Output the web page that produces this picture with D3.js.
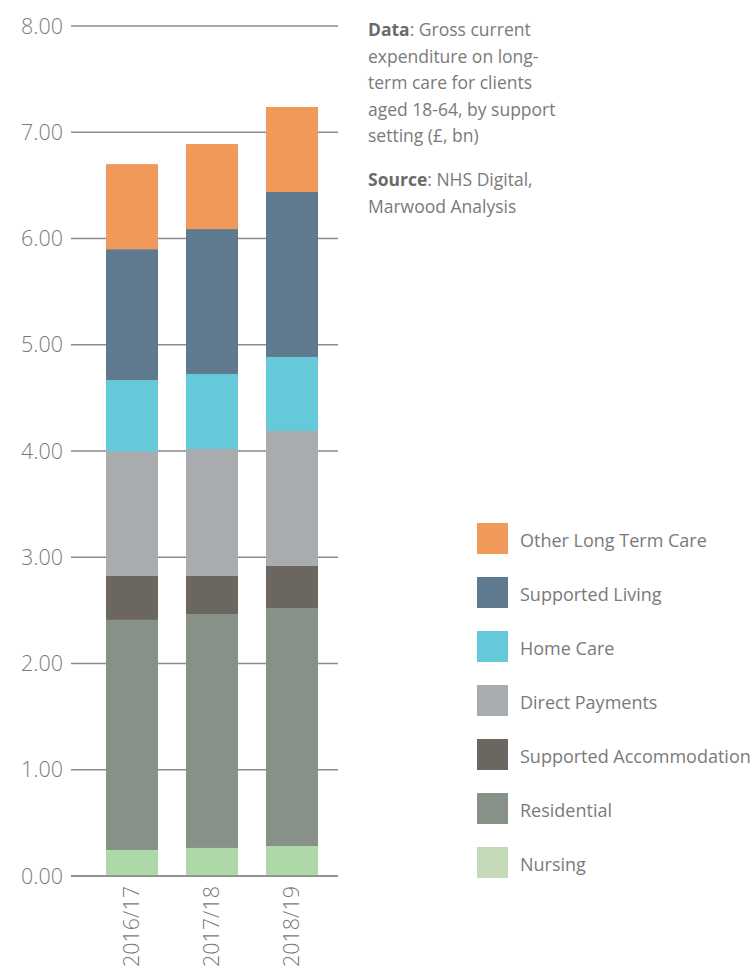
<!DOCTYPE html>
<html><head><meta charset="utf-8">
<script src="https://cdn.jsdelivr.net/npm/d3@7"></script>
<style>
body{margin:0;background:#fff;}
svg text{font-family:"Open Sans",sans-serif;}
</style></head>
<body><svg id="c" width="751" height="967"></svg>
<script>
const categories = ["2016/17","2017/18","2018/19"];
const seriesNames = ["Nursing","Residential","Supported Accommodation","Direct Payments","Home Care","Supported Living","Other Long Term Care"];
const nursing = [0.245,0.264,0.282];
const residential = [2.165,2.202,2.24];
const supportedAccommodation = [0.414,0.358,0.396];
const directPayments = [1.17,1.195,1.27];
const homeCare = [0.674,0.706,0.697];
const supportedLiving = [1.232,1.364,1.553];
const otherLongTermCare = [0.80,0.80,0.80];
const yTicks = [0,1,2,3,4,5,6,7,8];
const colors = ["#ADD8A8","#889187","#6B6760","#A8ACAE","#66C9D9","#5F7A8E","#F0995A"];
const legendColors = ["#C4D9B8","#889187","#6B6760","#A8ACAE","#66C9D9","#5F7A8E","#F0995A"];

const seriesValues = [nursing,residential,supportedAccommodation,directPayments,homeCare,supportedLiving,otherLongTermCare];
const rows = categories.map((c,i)=>{const o={cat:c}; seriesNames.forEach((s,j)=>o[s]=seriesValues[j][i]); return o;});
const stack = d3.stack().keys(seriesNames)(rows);

const svg = d3.select("#c");
const y = d3.scaleLinear().domain([0,8]).range([876,26]);
const x = d3.scaleBand().domain(categories).range([92,332]).paddingInner(0.35).paddingOuter(0.175);

// gridlines
svg.append("g").selectAll("line").data(yTicks).join("line")
  .attr("x1",71).attr("x2",338).attr("y1",d=>y(d)).attr("y2",d=>y(d))
  .attr("stroke","#8a8a8a").attr("stroke-width",1.3);
svg.append("g").selectAll("text").data(yTicks).join("text")
  .attr("x",63).attr("y",d=>y(d)).attr("dy","0.35em").attr("text-anchor","end")
  .attr("font-size",21.5).attr("font-weight",300).attr("fill","#7a7a7a")
  .text(d=>d3.format(".2f")(d));

// bars
svg.append("g").selectAll("g").data(stack).join("g").attr("fill",(d,i)=>colors[i])
  .selectAll("rect").data(d=>d).join("rect")
  .attr("x",d=>x(d.data.cat)).attr("width",x.bandwidth())
  .attr("y",d=>y(d[1])).attr("height",d=>y(d[0])-y(d[1]));

// baseline
svg.append("line").attr("x1",71).attr("x2",338).attr("y1",y(0)).attr("y2",y(0)).attr("stroke","#8a8a8a").attr("stroke-width",1.3);

// x labels
svg.append("g").selectAll("text").data(categories).join("text")
  .attr("transform",d=>`translate(${x(d)+x.bandwidth()/2+7},886) rotate(-90)`)
  .attr("text-anchor","end").attr("font-size",21.5).attr("font-weight",300).attr("fill","#7a7a7a")
  .text(d=>d);

// notes
const notes = svg.append("g").attr("font-size",17.5).attr("fill","#7a7a7a");
const lines = [
  [["Data",true],[": Gross current",false]],
  [["expenditure on long-",false]],
  [["term care for clients",false]],
  [["aged 18-64, by support",false]],
  [["setting (£, bn)",false]]
];
lines.forEach((ln,i)=>{
  const t = notes.append("text").attr("x",368).attr("y",36+i*26.5);
  ln.forEach(([s,b])=>t.append("tspan").attr("font-weight",b?700:400).attr("fill",b?"#6a6a6a":"#7a7a7a").text(s));
});
const src = [[["Source",true],[": NHS Digital,",false]],[["Marwood Analysis",false]]];
src.forEach((ln,i)=>{
  const t = notes.append("text").attr("x",368).attr("y",186+i*26.5);
  ln.forEach(([s,b])=>t.append("tspan").attr("font-weight",b?700:400).attr("fill",b?"#6a6a6a":"#7a7a7a").text(s));
});

// legend
const legendOrder = seriesNames.slice().reverse();
const lg = svg.append("g").selectAll("g").data(legendOrder).join("g")
  .attr("transform",(d,i)=>`translate(477,${523+i*54})`);
lg.append("rect").attr("width",31).attr("height",31).attr("fill",d=>legendColors[seriesNames.indexOf(d)]);
lg.append("text").attr("x",43).attr("y",18).attr("dy","0.35em").attr("font-size",18).attr("fill","#7a7a7a").text(d=>d);
</script></body></html>
